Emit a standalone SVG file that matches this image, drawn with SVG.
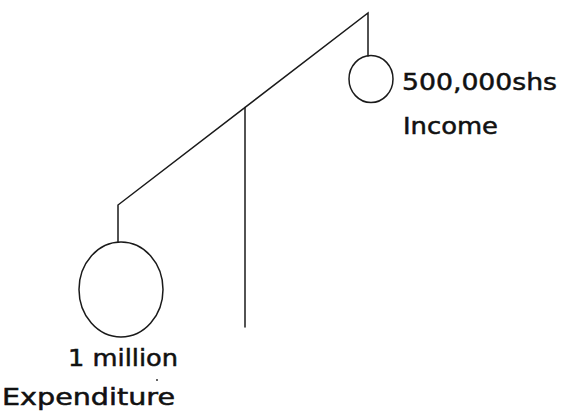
<svg xmlns="http://www.w3.org/2000/svg" width="565" height="414" viewBox="0 0 565 414">
<style>
.ln{stroke:#1a1a1a;stroke-width:1.5;fill:none;stroke-linecap:round}
.t{font-family:"DejaVu Sans","Liberation Sans",sans-serif;font-size:23px;fill:#111;stroke:#111;stroke-width:0.5}
</style>
<rect width="565" height="414" fill="#fff"/>
<g id="connectors">
<polyline class="ln" points="118,242 118,205 368,13 368,56"/>
<line class="ln" x1="245" y1="107.5" x2="245" y2="327"/>
</g>
<g id="expenditure">
<ellipse class="ln" cx="121" cy="289.5" rx="42" ry="47.5"/>
<text class="t" x="68" y="366" textLength="110" lengthAdjust="spacingAndGlyphs">1 million</text>
<circle cx="157" cy="380" r="1" fill="#333"/>
<text class="t" x="2" y="405" textLength="173" lengthAdjust="spacingAndGlyphs">Expenditure</text>
</g>
<g id="income">
<ellipse class="ln" cx="371" cy="79" rx="22" ry="23.5"/>
<text class="t" x="402" y="90" textLength="155" lengthAdjust="spacingAndGlyphs">500,000shs</text>
<text class="t" x="403" y="134" textLength="95" lengthAdjust="spacingAndGlyphs">Income</text>
</g>
</svg>
